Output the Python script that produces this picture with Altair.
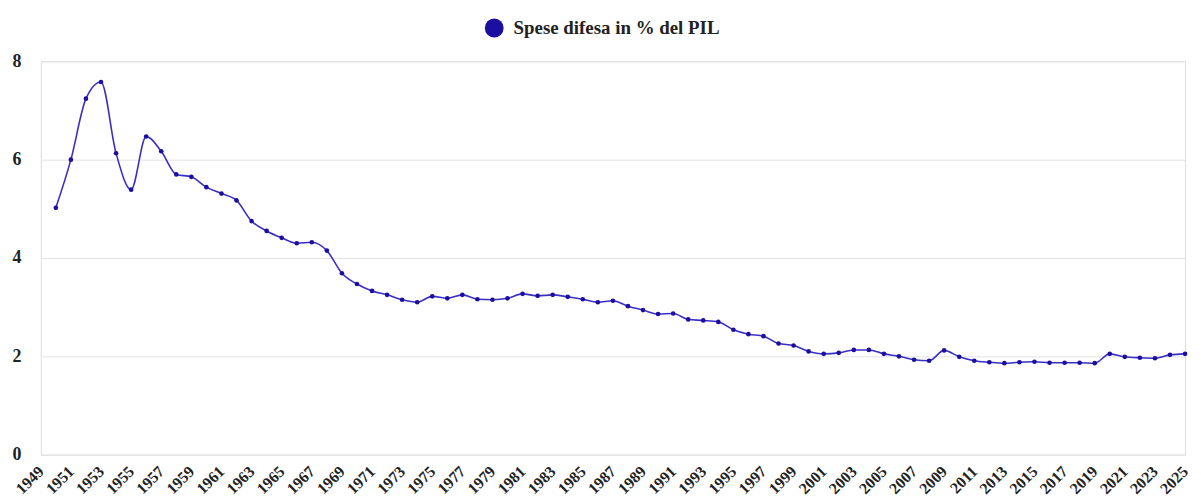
import altair as alt
import pandas as pd

years = list(range(1950, 2026))
values = [
    5.02, 6.00, 7.24, 7.58, 6.13, 5.39, 6.47, 6.17, 5.70, 5.65,
    5.44, 5.31, 5.17, 4.75, 4.55, 4.41, 4.30, 4.32, 4.15, 3.69,
    3.47, 3.33, 3.25, 3.15, 3.10, 3.22, 3.18, 3.25, 3.16, 3.15,
    3.18, 3.27, 3.23, 3.25, 3.21, 3.16, 3.10, 3.13, 3.02, 2.94,
    2.86, 2.87, 2.75, 2.73, 2.70, 2.54, 2.45, 2.41, 2.26, 2.22,
    2.10, 2.05, 2.07, 2.13, 2.13, 2.05, 2.00, 1.93, 1.91, 2.12,
    1.99, 1.91, 1.88, 1.86, 1.88, 1.89, 1.87, 1.87, 1.87, 1.86,
    2.05, 1.99, 1.97, 1.96, 2.03, 2.05,
]
series_name = "Spese difesa in % del PIL"
x_ticks = list(range(1949, 2026, 2))
y_ticks = [0, 2, 4, 6, 8]

df = pd.DataFrame({"anno": years, "valore": values, "serie": [series_name] * len(years)})

FONT = "Liberation Serif"

x = alt.X(
    "anno:Q",
    scale=alt.Scale(domain=[1949, 2025], nice=False, zero=False),
    axis=alt.Axis(
        values=x_ticks, format="d", title=None, labelAngle=315, grid=False,
        domain=False, ticks=False, labelFont=FONT, labelFontSize=16,
        labelFontWeight="bold", labelColor="#222222", labelPadding=14,
        labelAlign="right", labelBaseline="middle",
        labelOverlap=False, labelFlush=False,
    ),
)
y = alt.Y(
    "valore:Q",
    scale=alt.Scale(domain=[0, 8], nice=False),
    axis=alt.Axis(
        values=y_ticks, title=None, domain=False, ticks=False,
        labelFont=FONT, labelFontSize=18, labelFontWeight="bold",
        labelColor="#222222", labelPadding=20, gridColor="#e2e2e2", gridWidth=1,
    ),
)

line = alt.Chart(df).mark_line(interpolate="monotone", color="#3a2fc4", strokeWidth=1.6).encode(x=x, y=y)
pts = alt.Chart(df).mark_point(filled=True, size=22, opacity=1).encode(
    x=x, y=y,
    color=alt.Color(
        "serie:N",
        scale=alt.Scale(range=["#1c0fa0"]),
        legend=alt.Legend(
            orient="none", legendX=447, legendY=-43, title=None,
            symbolType="circle", symbolSize=360, symbolFillColor="#1c0fb0",
            symbolStrokeWidth=0, labelFont=FONT, labelFontSize=19,
            labelFontWeight="bold", labelColor="#222222", labelOffset=10,
            labelLimit=500, padding=0,
        ),
    ),
)

chart = (
    alt.layer(line, pts)
    .properties(width=1152, height=396, padding={"left": 33, "top": 52, "right": 8, "bottom": 46},
                autosize=alt.AutoSizeParams(type="none"))
    .configure_view(stroke=None)
    .configure(background="white")
)

chart.save("out.html", embed_options={"renderer": "svg", "actions": False})
